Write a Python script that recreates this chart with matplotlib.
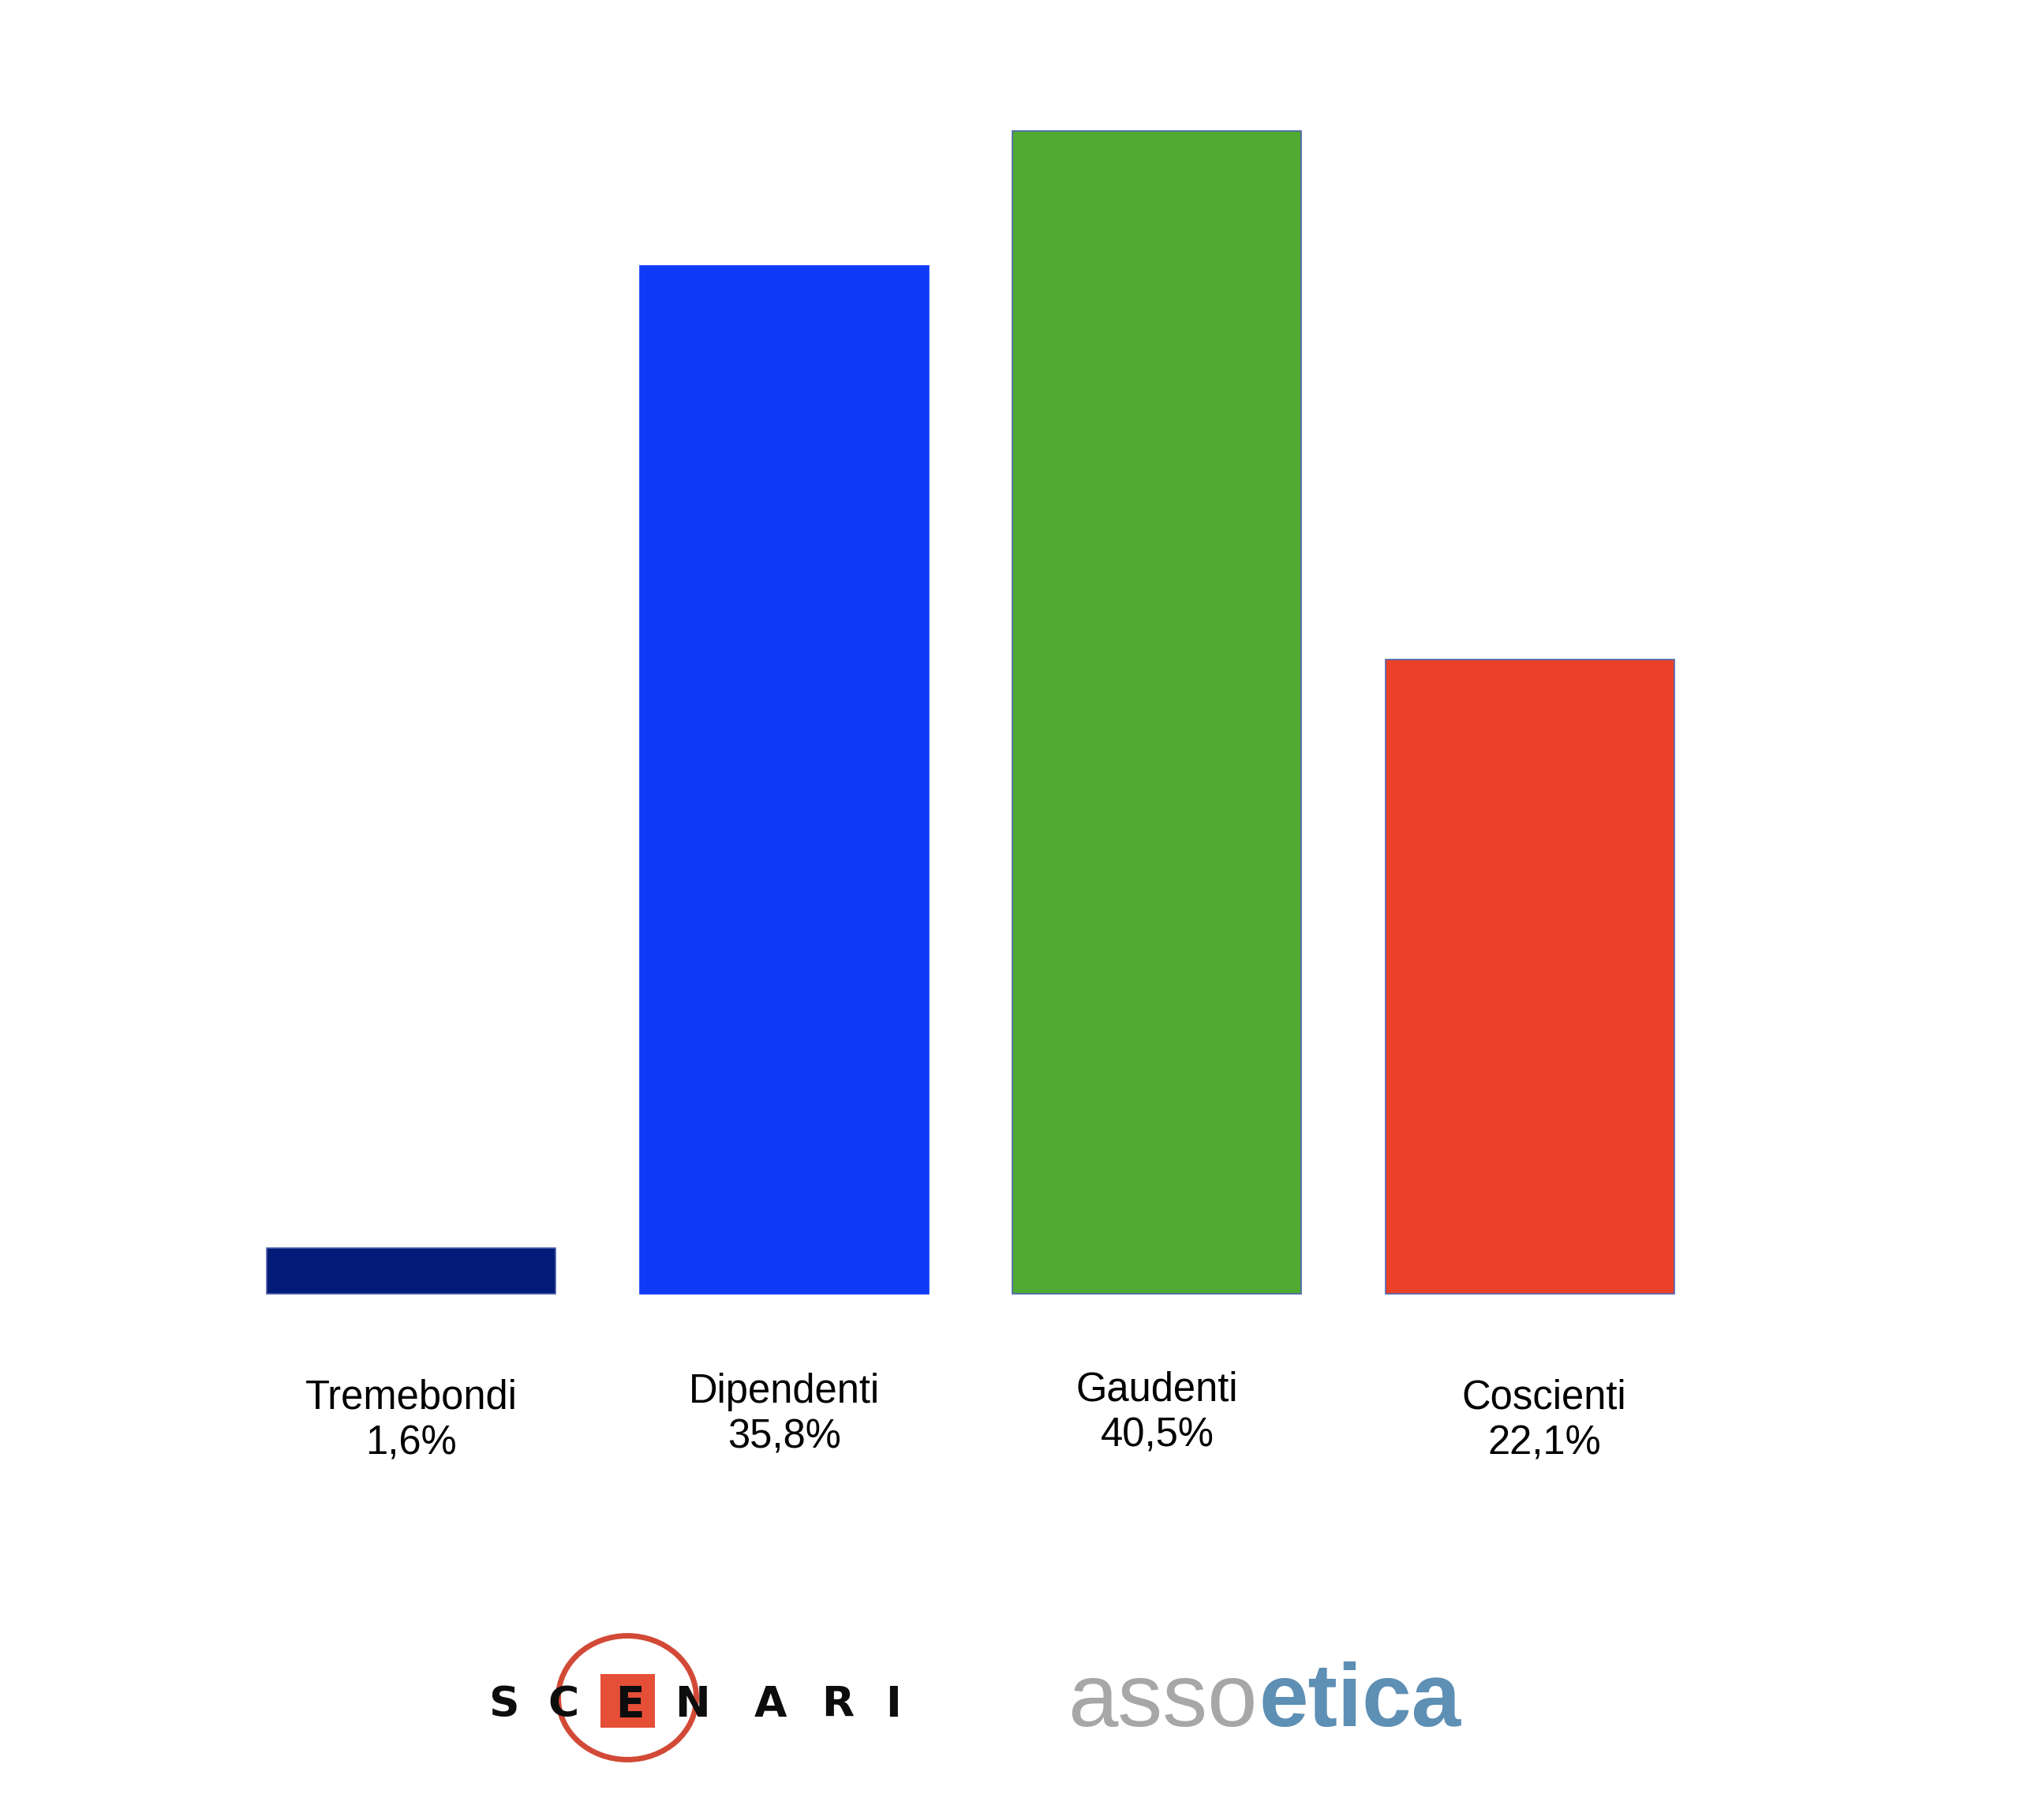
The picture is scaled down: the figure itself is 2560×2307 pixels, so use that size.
import matplotlib.pyplot as plt
from matplotlib.patches import Ellipse, Rectangle

categories = ['Tremebondi', 'Dipendenti', 'Gaudenti', 'Coscienti']
values = [1.6, 35.8, 40.5, 22.1]
value_labels = ['1,6%', '35,8%', '40,5%', '22,1%']
bar_colors = ['#021a78', '#0f3af6', '#50aa32', '#ea4128']
edge_colors = ['#4a5fa8', '#0f3af6', '#4d63b0', '#4d63b0']

W, H = 2560, 2307
px_per_bar = 472.7      # horizontal pixels between bar centres
px_per_unit = 36.4      # vertical pixels per percent
x0_px, base_px = 521, 1640

label_top_px = [1748, 1740, 1738, 1748]
label_dx_px = [0, 0, 0, 18]

plt.rcParams['font.family'] = ['Liberation Sans', 'DejaVu Sans']

fig = plt.figure(figsize=(W / 100, H / 100), dpi=100)
fig.patch.set_facecolor('white')

ax = fig.add_axes([0, 0, 1, 1])
ax.set_xlim(-x0_px / px_per_bar, (W - x0_px) / px_per_bar)
ax.set_ylim(-(H - base_px) / px_per_unit, base_px / px_per_unit)
ax.axis('off')

xs = range(len(categories))
ax.bar(xs, values, width=0.774, color=bar_colors, edgecolor=edge_colors, linewidth=1.2)

for i, (name, lab) in enumerate(zip(categories, value_labels)):
    ax.text(i + label_dx_px[i] / px_per_bar, (base_px - label_top_px[i]) / px_per_unit,
            f'{name}\n{lab}', ha='center', va='top', fontsize=36.5,
            color='#000000', linespacing=1.22)

# logos at the bottom, drawn in pixel coordinates
lg = fig.add_axes([0, 0, 1, 1])
lg.set_xlim(0, W)
lg.set_ylim(H, 0)
lg.axis('off')

lg.add_patch(Ellipse((795, 2152), 175, 157, fill=False, edgecolor='#d24a37', linewidth=5))
lg.add_patch(Rectangle((761, 2122), 69, 68, facecolor='#e54e37', edgecolor='none'))
scenari_x = [638, 714, 798, 877, 976, 1062, 1132]
for ch, x in zip('SCENARI', scenari_x):
    lg.text(x, 2176, ch, ha='center', va='baseline', fontsize=38.5,
            fontweight='bold', family='DejaVu Sans', color='#0d0d0d')

lg.text(1594, 2188, 'asso', ha='right', va='baseline', fontsize=82,
        color='#a7a7a7')
lg.text(1596, 2188, 'etica', ha='left', va='baseline', fontsize=81,
        fontweight='bold', color='#5e8fb4')

plt.savefig('out.png', dpi=100, facecolor='white')
